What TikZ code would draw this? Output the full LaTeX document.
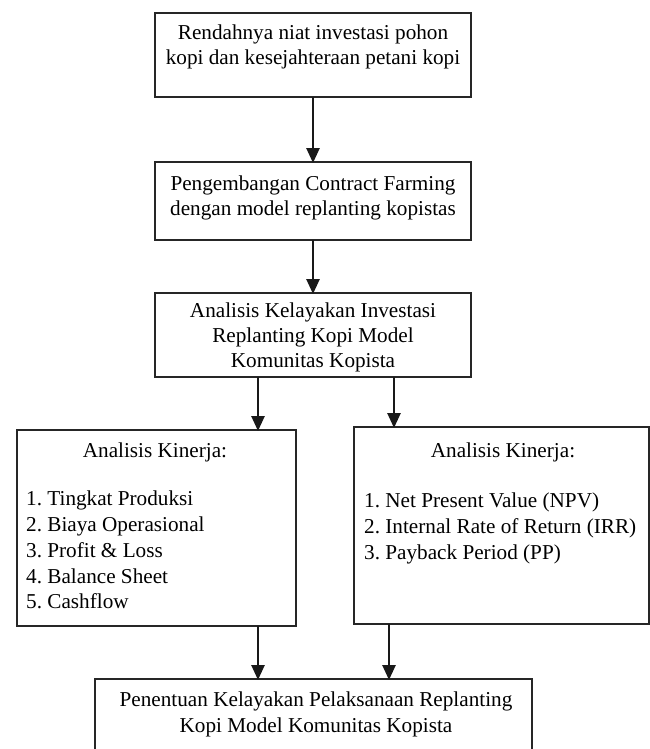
\documentclass[tikz,border=0pt]{standalone}
\usepackage{fontspec}
\setmainfont{Liberation Serif}
\usetikzlibrary{arrows.meta}
\frenchspacing
\begin{document}
\begin{tikzpicture}[x=1pt,y=-1pt,
  box/.style={draw=black!85,line width=2pt,rectangle,inner sep=0pt,outer sep=0pt,fill=none},
  ln/.style={inner sep=0pt,anchor=base,font=\fontsize{21.2pt}{25pt}\selectfont\frenchspacing,text=black},
  lw/.style={ln,anchor=base west},
  arr/.style={draw=black!90,line width=2.6pt,-{Triangle[length=15pt,width=13pt]},shorten >=-1pt}]
\clip (0,0) rectangle (650,749);
\fill[white] (0,0) rectangle (650,749);
% boxes
\node[box,minimum width=316pt,minimum height=84pt] (b1) at (313,55) {};
\node[box,minimum width=316pt,minimum height=78pt] (b2) at (313,201) {};
\node[box,minimum width=316pt,minimum height=84pt] (b3) at (313,335) {};
\node[box,minimum width=279pt,minimum height=196pt] (b4) at (156.5,528) {};
\node[box,minimum width=295pt,minimum height=197pt] (b5) at (501.5,525.5) {};
\node[box,minimum width=437pt,minimum height=91pt] (b6) at (313.5,724.5) {};
% texts
\node[ln] (t1a) at (313,40) {Rendahnya niat investasi pohon};
\node[ln] (t1b) at (313,65) {kopi dan kesejahteraan petani kopi};
\node[ln] (t2a) at (313,190) {Pengembangan Contract Farming};
\node[ln] (t2b) at (313,215) {dengan model replanting kopistas};
\node[ln] (t3a) at (313,317) {Analisis Kelayakan Investasi};
\node[ln] (t3b) at (313,342) {Replanting Kopi Model};
\node[ln] (t3c) at (313,367) {Komunitas Kopista};
\node[ln] (t4h) at (155,457) {Analisis Kinerja:};
\node[lw] (t4a) at (26,505) {1. Tingkat Produksi};
\node[lw] (t4b) at (26,531) {2. Biaya Operasional};
\node[lw] (t4c) at (26,557) {3. Profit \& Loss};
\node[lw] (t4d) at (26,583) {4. Balance Sheet};
\node[lw] (t4e) at (26,608) {5. Cashflow};
\node[ln] (t5h) at (503,457) {Analisis Kinerja:};
\node[lw] (t5a) at (364,507) {1. Net Present Value (NPV)};
\node[lw] (t5b) at (364,533) {2. Internal Rate of Return (IRR)};
\node[lw] (t5c) at (364,559) {3. Payback Period (PP)};
\node[ln] (t6a) at (316,706) {Penentuan Kelayakan Pelaksanaan Replanting};
\node[ln] (t6b) at (316,732) {Kopi Model Komunitas Kopista};
% connectors
\draw[arr] (b1.south) -- (b2.north);
\draw[arr] (b2.south) -- (b3.north);
\draw[arr] ([xshift=-55pt]b3.south) -- ([xshift=-55pt]b3.south |- b4.north);
\draw[arr] ([xshift=81pt]b3.south) -- ([xshift=81pt]b3.south |- b5.north);
\draw[arr] ([xshift=101.5pt]b4.south) -- ([xshift=101.5pt]b4.south |- b6.north);
\draw[arr] ([xshift=-112.5pt]b5.south) -- ([xshift=-112.5pt]b5.south |- b6.north);
\end{tikzpicture}
\end{document}
